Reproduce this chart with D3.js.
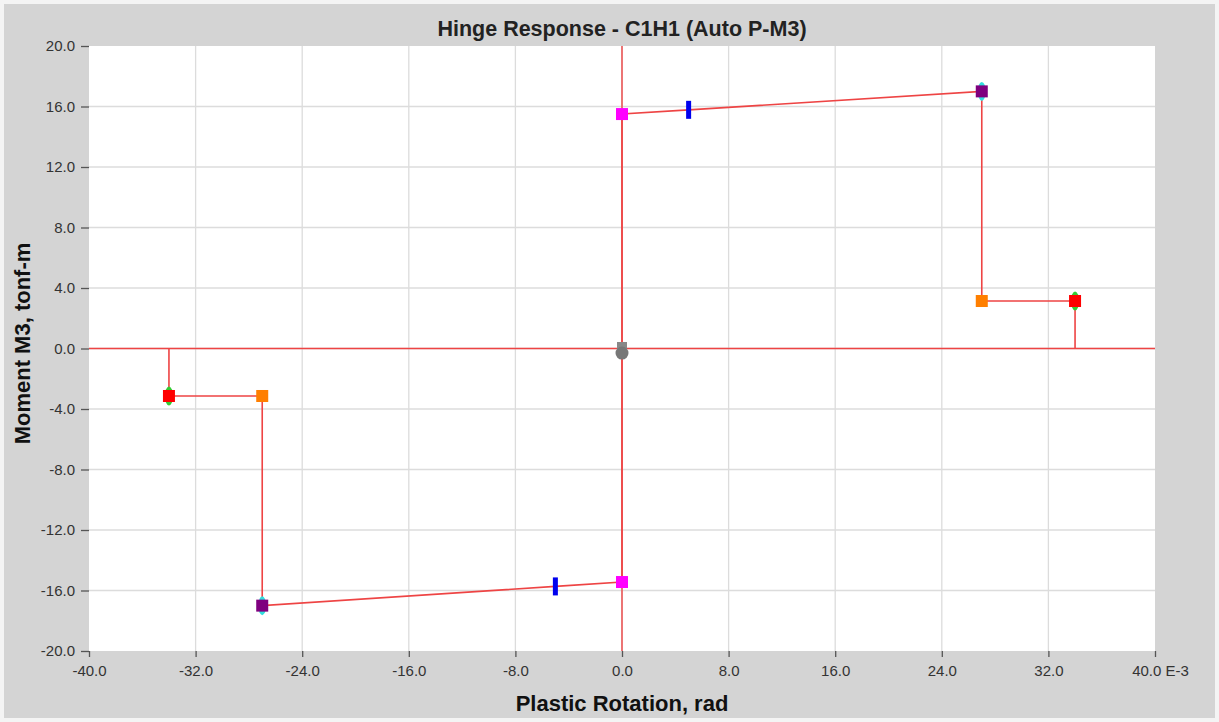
<!DOCTYPE html>
<html>
<head>
<meta charset="utf-8">
<script src="https://cdn.jsdelivr.net/npm/d3@7"></script>
<style>
  body { margin: 0; background: #ffffff; }
  svg { display: block; font-family: "Liberation Sans", Arial, sans-serif; }
</style>
</head>
<body>
<script>
// SIZES
const WIDTH = 1219;
const HEIGHT = 722;
const MARGIN = { top: 46, right: 64, bottom: 71, left: 89 };

// DATA (rotation in E-3 rad, moment in tonf-m)
const xTicks = [-40, -32, -24, -16, -8, 0, 8, 16, 24, 32, 40];
const yTicks = [-20, -16, -12, -8, -4, 0, 4, 8, 12, 16, 20];
const pathX = [-34, -34, -27, -27, -5, 0, 0, 5, 27, 27, 34, 34];
const pathY = [0, -3.14, -3.14, -17.0, -15.73, -15.44, 15.5, 15.78, 17.0, 3.14, 3.14, 0];
const magentaX = [0, 0];
const magentaY = [15.5, -15.44];
const blueX = [5, -5];
const blueY = [15.78, -15.73];
const purpleX = [27, -27];
const purpleY = [17.0, -17.0];
const orangeX = [27, -27];
const orangeY = [3.14, -3.14];
const redX = [34, -34];
const redY = [3.14, -3.14];

const svg = d3.select('body').append('svg')
    .attr('width', WIDTH)
    .attr('height', HEIGHT);

// background
svg.append('rect').attr('width', WIDTH).attr('height', HEIGHT).attr('fill', '#f4f4f4');
svg.append('rect').attr('x', 4).attr('y', 4).attr('width', WIDTH - 8).attr('height', HEIGHT - 8).attr('fill', '#d4d4d4');

const x = d3.scaleLinear().domain([-40, 40]).range([MARGIN.left, WIDTH - MARGIN.right]);
const y = d3.scaleLinear().domain([-20, 20]).range([HEIGHT - MARGIN.bottom, MARGIN.top]);

// plot area
svg.append('rect')
    .attr('x', x(-40)).attr('y', y(20))
    .attr('width', x(40) - x(-40)).attr('height', y(-20) - y(20))
    .attr('fill', '#ffffff');

// grid
svg.append('g').selectAll('line').data(xTicks.slice(1, -1)).enter().append('line')
    .attr('x1', d => x(d)).attr('x2', d => x(d))
    .attr('y1', y(20)).attr('y2', y(-20))
    .attr('stroke', '#dcdcdc').attr('stroke-width', 1.3);
svg.append('g').selectAll('line').data(yTicks.slice(1, -1)).enter().append('line')
    .attr('x1', x(-40)).attr('x2', x(40))
    .attr('y1', d => y(d)).attr('y2', d => y(d))
    .attr('stroke', '#dcdcdc').attr('stroke-width', 1.3);

// axes
const fmt = d => d3.format('.1f')(d).replace('\u2212', '-');
const xAxis = d3.axisBottom(x).tickValues(xTicks).tickSize(6).tickPadding(8)
    .tickFormat(d => d === 40 ? '40.0 E-3' : fmt(d));
const yAxis = d3.axisLeft(y).tickValues(yTicks).tickSize(8).tickPadding(6)
    .tickFormat(fmt);

const gx = svg.append('g').attr('transform', `translate(0,${y(-20)})`).call(xAxis);
const gy = svg.append('g').attr('transform', `translate(${x(-40)},0)`).call(yAxis);
[gx, gy].forEach(g => {
    g.select('.domain').remove();
    g.selectAll('.tick line').attr('stroke', '#555').attr('stroke-width', 1.3);
    g.selectAll('.tick text').attr('fill', '#333').attr('font-size', 15)
        .attr('font-family', '"Liberation Sans", Arial, sans-serif');
});
gx.selectAll('.tick text').filter(d => d === 40).attr('dx', 5);

// axis lines through origin
svg.append('line')
    .attr('x1', x(-40)).attr('x2', x(40)).attr('y1', y(0)).attr('y2', y(0))
    .attr('stroke', '#ee4444').attr('stroke-width', 1.4);
svg.append('line')
    .attr('x1', x(0)).attr('x2', x(0)).attr('y1', y(20)).attr('y2', y(-20))
    .attr('stroke', '#ee4444').attr('stroke-width', 1.4);

// hysteresis path
const pts = pathX.map((d, i) => [d, pathY[i]]);
svg.append('path')
    .datum(pts)
    .attr('d', d3.line().x(d => x(d[0])).y(d => y(d[1])))
    .attr('fill', 'none')
    .attr('stroke', '#ee4444')
    .attr('stroke-width', 1.6);

// helper for square markers
function squares(xs, ys, size, color) {
    svg.append('g').selectAll('rect').data(xs).enter().append('rect')
        .attr('x', (d, i) => x(d) - size / 2)
        .attr('y', (d, i) => y(ys[i]) - size / 2)
        .attr('width', size).attr('height', size)
        .attr('fill', color);
}
function tails(xs, ys, color) {
    svg.append('g').selectAll('ellipse').data(xs).enter().append('ellipse')
        .attr('cx', d => x(d))
        .attr('cy', (d, i) => y(ys[i]))
        .attr('rx', 4).attr('ry', 9.5)
        .attr('fill', color);
}

// gray origin marker
svg.append('rect').attr('x', x(0) - 5).attr('y', y(0.1) - 5).attr('width', 10).attr('height', 9).attr('fill', '#888');
svg.append('circle').attr('cx', x(0)).attr('cy', y(-0.3)).attr('r', 6.5).attr('fill', '#777');

tails(purpleX, purpleY, '#33dddd');
tails(redX, redY, '#33cc33');
squares(magentaX, magentaY, 12, '#ff00ff');
squares(orangeX, orangeY, 12, '#ff7f00');
squares(purpleX, purpleY, 12, '#7f007f');
squares(redX, redY, 12, '#ff0000');

// blue markers (vertical bars)
svg.append('g').selectAll('rect').data(blueX).enter().append('rect')
    .attr('x', d => x(d) - 2.5)
    .attr('y', (d, i) => y(blueY[i]) - 9)
    .attr('width', 5).attr('height', 18)
    .attr('fill', '#0000ee');

// titles
svg.append('text')
    .attr('x', x(0)).attr('y', 36)
    .attr('text-anchor', 'middle')
    .attr('font-size', 21.5).attr('font-weight', 'bold').attr('fill', '#222')
    .text('Hinge Response - C1H1 (Auto P-M3)');
svg.append('text')
    .attr('x', x(0)).attr('y', 711)
    .attr('text-anchor', 'middle')
    .attr('font-size', 22).attr('font-weight', 'bold').attr('fill', '#111')
    .text('Plastic Rotation, rad');
svg.append('text')
    .attr('transform', `translate(30,${y(0) - 5}) rotate(-90)`)
    .attr('text-anchor', 'middle')
    .attr('font-size', 22).attr('font-weight', 'bold').attr('fill', '#111')
    .text('Moment M3, tonf-m');
</script>
</body>
</html>
